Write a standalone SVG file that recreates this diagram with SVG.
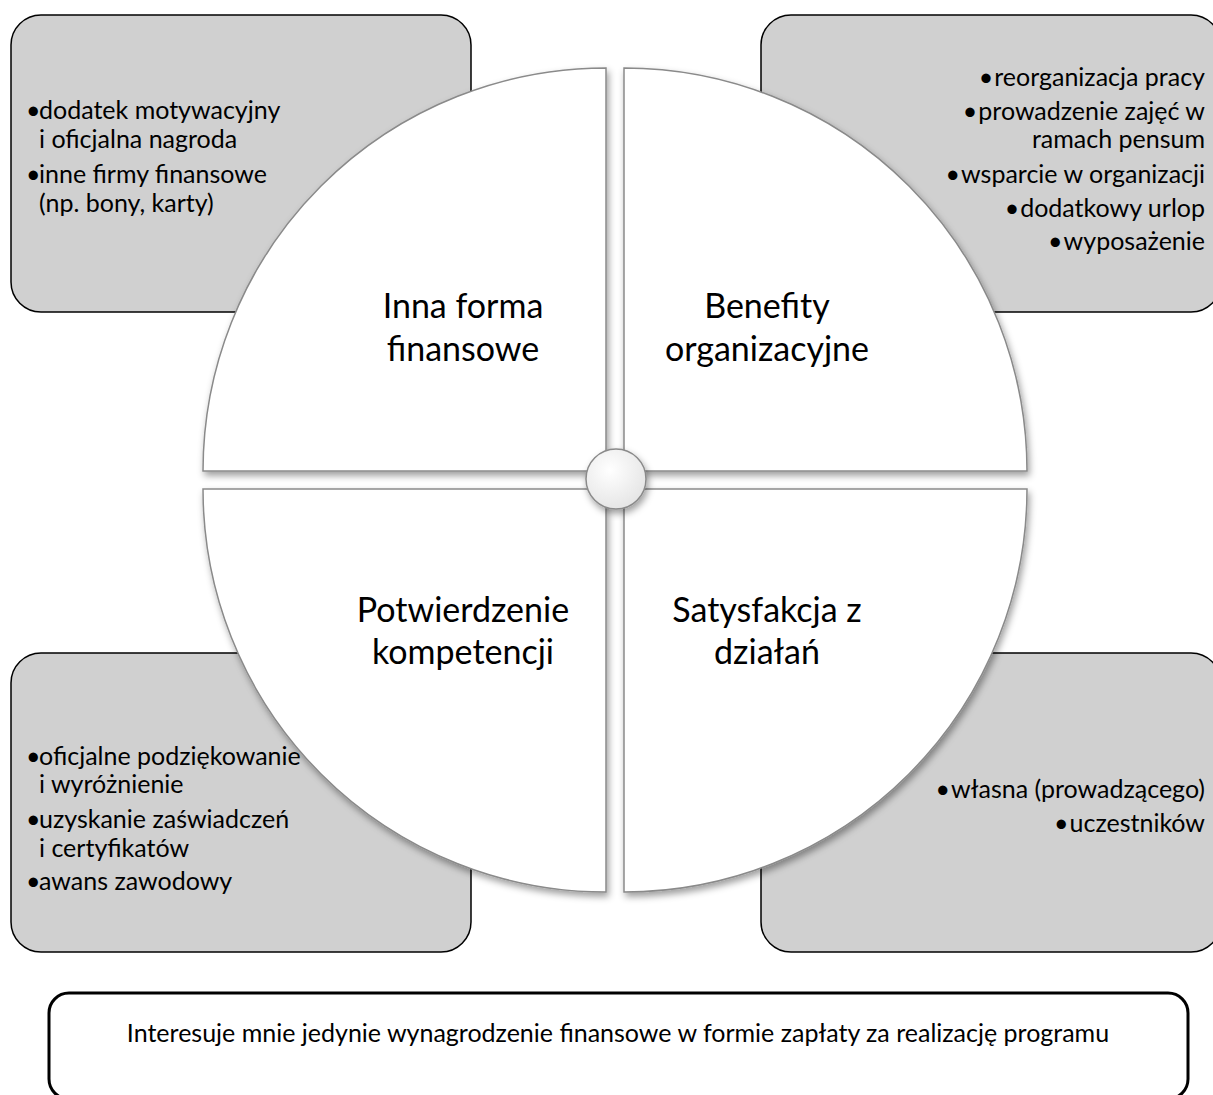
<svg xmlns="http://www.w3.org/2000/svg" width="1213" height="1095" viewBox="0 0 1213 1095">
<defs>
<style>
.box{fill:#d0d0d0;stroke:#000;stroke-width:1.5}
.quad{fill:#fff;stroke:#8a8a8a;stroke-width:1.5;filter:url(#sh)}
.lbl{font-family:Lato,"Liberation Sans",sans-serif;font-size:34px;fill:#000;text-anchor:middle}
.bt{font-family:Lato,"Liberation Sans",sans-serif;font-size:25px;fill:#000}
.r{text-anchor:end}
.note{font-family:Lato,"Liberation Sans",sans-serif;font-size:25px;fill:#000;text-anchor:middle}
</style>
<filter id="sh" x="-10%" y="-10%" width="130%" height="130%">
<feDropShadow dx="2" dy="4" stdDeviation="3.5" flood-color="#000" flood-opacity="0.38"/>
</filter>
<radialGradient id="hub" cx="40%" cy="35%" r="70%">
<stop offset="0" stop-color="#ffffff"/>
<stop offset="1" stop-color="#e4e4e4"/>
</radialGradient>
</defs>

<g id="box-tl">
<rect class="box" x="11" y="15" width="460" height="297" rx="30"/>
<text class="bt" x="39" y="119"><tspan x="26">•</tspan><tspan x="39">dodatek motywacyjny</tspan></text>
<text class="bt" x="39" y="148">i oficjalna nagroda</text>
<text class="bt" x="39" y="183"><tspan x="26">•</tspan><tspan x="39">inne firmy finansowe</tspan></text>
<text class="bt" x="39" y="212">(np. bony, karty)</text>
</g>

<g id="box-tr">
<rect class="box" x="761" y="15" width="460" height="297" rx="30"/>
<text class="bt r" x="1205" y="86">•<tspan dx="1">reorganizacja pracy</tspan></text>
<text class="bt r" x="1205" y="120">•<tspan dx="1">prowadzenie zajęć w</tspan></text>
<text class="bt r" x="1205" y="148">ramach pensum</text>
<text class="bt r" x="1205" y="183">•<tspan dx="1">wsparcie w organizacji</tspan></text>
<text class="bt r" x="1205" y="217">•<tspan dx="1">dodatkowy urlop</tspan></text>
<text class="bt r" x="1205" y="250">•<tspan dx="1">wyposażenie</tspan></text>
</g>

<g id="box-bl">
<rect class="box" x="11" y="653" width="460" height="299" rx="30"/>
<text class="bt" x="39" y="765"><tspan x="26">•</tspan><tspan x="39">oficjalne podziękowanie</tspan></text>
<text class="bt" x="39" y="793">i wyróżnienie</text>
<text class="bt" x="39" y="828"><tspan x="26">•</tspan><tspan x="39">uzyskanie zaświadczeń</tspan></text>
<text class="bt" x="39" y="857">i certyfikatów</text>
<text class="bt" x="39" y="890"><tspan x="26">•</tspan><tspan x="39">awans zawodowy</tspan></text>
</g>

<g id="box-br">
<rect class="box" x="761" y="653" width="460" height="299" rx="30"/>
<text class="bt r" x="1205" y="798">•<tspan dx="1">własna (prowadzącego)</tspan></text>
<text class="bt r" x="1205" y="832">•<tspan dx="1">uczestników</tspan></text>
</g>

<g id="quad-tl">
<path class="quad" d="M606,471 L203,471 A403,403 0 0 1 606,68 Z"/>
<text class="lbl" x="463" y="318">Inna forma</text>
<text class="lbl" x="463" y="361">finansowe</text>
</g>
<g id="quad-tr">
<path class="quad" d="M624,471 L624,68 A403,403 0 0 1 1027,471 Z"/>
<text class="lbl" x="767" y="318">Benefity</text>
<text class="lbl" x="767" y="361">organizacyjne</text>
</g>
<g id="quad-bl">
<path class="quad" d="M606,489 L606,892 A403,403 0 0 1 203,489 Z"/>
<text class="lbl" x="463" y="622">Potwierdzenie</text>
<text class="lbl" x="463" y="664">kompetencji</text>
</g>
<g id="quad-br">
<path class="quad" d="M624,489 L1027,489 A403,403 0 0 1 624,892 Z"/>
<text class="lbl" x="767" y="622">Satysfakcja z</text>
<text class="lbl" x="767" y="664">działań</text>
</g>

<g id="hub">
<circle cx="616" cy="479" r="30" fill="url(#hub)" stroke="#8a8a8a" stroke-width="1.5" filter="url(#sh)"/>
</g>

<g id="connectors"></g>

<g id="note">
<rect x="49" y="993" width="1139" height="106" rx="20" fill="#fff" stroke="#000" stroke-width="3"/>
<text class="note" x="618" y="1042">Interesuje mnie jedynie wynagrodzenie finansowe w formie zapłaty za realizację programu</text>
</g>
</svg>
